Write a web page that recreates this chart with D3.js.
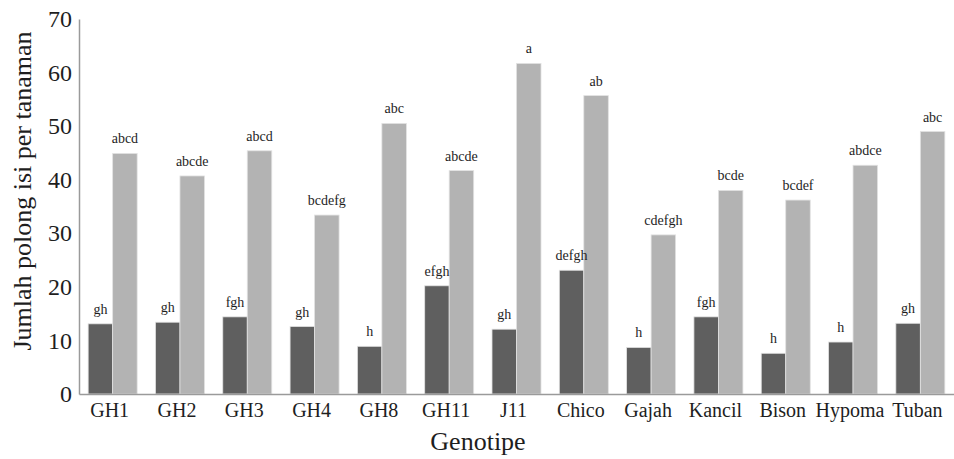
<!DOCTYPE html>
<html>
<head>
<meta charset="utf-8">
<script src="https://cdn.jsdelivr.net/npm/d3@7"></script>
<style>
  html, body { margin: 0; padding: 0; background: #fff; }
  svg { display: block; }
</style>
</head>
<body>
<svg id="chart" width="954" height="459"></svg>
<script>
// Genotypes on the x axis
const genotypes = ["GH1", "GH2", "GH3", "GH4", "GH8", "GH11", "J11", "Chico", "Gajah", "Kancil", "Bison", "Hypoma", "Tuban"];

// Pods per plant, first (dark) series
const seriesA = [13.1, 13.4, 14.4, 12.6, 8.9, 20.2, 12.1, 23.1, 8.7, 14.4, 7.6, 9.7, 13.2];
// Pods per plant, second (light) series
const seriesB = [44.9, 40.7, 45.4, 33.4, 50.5, 41.7, 61.7, 55.7, 29.7, 38.0, 36.2, 42.7, 49.0];

// Mean-separation letters above each bar
const lettersA = ["gh", "gh", "fgh", "gh", "h", "efgh", "gh", "defgh", "h", "fgh", "h", "h", "gh"];
const lettersB = ["abcd", "abcde", "abcd", "bcdefg", "abc", "abcde", "a", "ab", "cdefgh", "bcde", "bcdef", "abdce", "abc"];

// Y axis ticks
const yTicks = [0, 10, 20, 30, 40, 50, 60, 70];

const SERIF = "'Liberation Serif', 'Times New Roman', Times, 'DejaVu Serif', serif";
const INK = "#1e1e1e";

const svg = d3.select("#chart");
const plotLeft = 79, plotRight = 954, plotTop = 19, plotBottom = 394;

const x = d3.scaleBand()
  .domain(genotypes)
  .range([plotLeft, plotRight])
  .paddingInner(0.272)
  .paddingOuter(0.136);

const inner = d3.scaleBand()
  .domain(["A", "B"])
  .range([0, x.bandwidth()])
  .padding(0);

const y = d3.scaleLinear().domain([0, 70]).range([plotBottom, plotTop]);

const rows = genotypes.map((g, i) => ({
  g,
  bars: [
    { key: "A", v: seriesA[i], t: lettersA[i], fill: "#5f5f5f" },
    { key: "B", v: seriesB[i], t: lettersB[i], fill: "#b3b3b3" }
  ]
}));

const groups = svg.append("g")
  .selectAll("g")
  .data(rows)
  .join("g")
  .attr("transform", d => `translate(${x(d.g)},0)`);

groups.selectAll("rect")
  .data(d => d.bars)
  .join("rect")
  .attr("x", d => inner(d.key))
  .attr("y", d => y(d.v))
  .attr("width", inner.bandwidth())
  .attr("height", d => y(0) - y(d.v))
  .attr("fill", d => d.fill)
  .attr("stroke", "#e2e2e2")
  .attr("stroke-width", 0.8);

groups.selectAll("text.lbl")
  .data(d => d.bars)
  .join("text")
  .attr("class", "lbl")
  .attr("x", d => inner(d.key) + inner.bandwidth() / 2)
  .attr("y", d => y(d.v) - 10)
  .attr("text-anchor", "middle")
  .style("font-family", SERIF)
  .attr("font-size", 14)
  .attr("fill", INK)
  .text(d => d.t);

// Y axis
const yAxis = d3.axisLeft(y)
  .tickValues(yTicks)
  .tickSize(0)
  .tickPadding(7);

const gy = svg.append("g")
  .attr("transform", `translate(${plotLeft},0)`)
  .call(yAxis);
gy.select(".domain").attr("stroke", "#9a9a9a").attr("stroke-width", 1.5);
gy.selectAll(".tick text")
  .style("font-family", SERIF)
  .attr("font-size", 24)
  .attr("fill", INK);

// X axis
const xAxis = d3.axisBottom(x).tickSize(0).tickPadding(9);
const gx = svg.append("g")
  .attr("transform", `translate(0,${plotBottom})`)
  .call(xAxis);
gx.select(".domain").attr("stroke", "#9a9a9a").attr("stroke-width", 1.5);
gx.selectAll(".tick text")
  .style("font-family", SERIF)
  .attr("font-size", 20)
  .attr("fill", INK)
  .attr("dx", -3);

// Axis titles
svg.append("text")
  .attr("transform", "translate(31,191) rotate(-90)")
  .attr("text-anchor", "middle")
  .style("font-family", SERIF)
  .attr("font-size", 26)
  .attr("fill", INK)
  .text("Jumlah polong isi per tanaman");

svg.append("text")
  .attr("x", 478)
  .attr("y", 450)
  .attr("text-anchor", "middle")
  .style("font-family", SERIF)
  .attr("font-size", 26)
  .attr("fill", INK)
  .text("Genotipe");
</script>
</body>
</html>
